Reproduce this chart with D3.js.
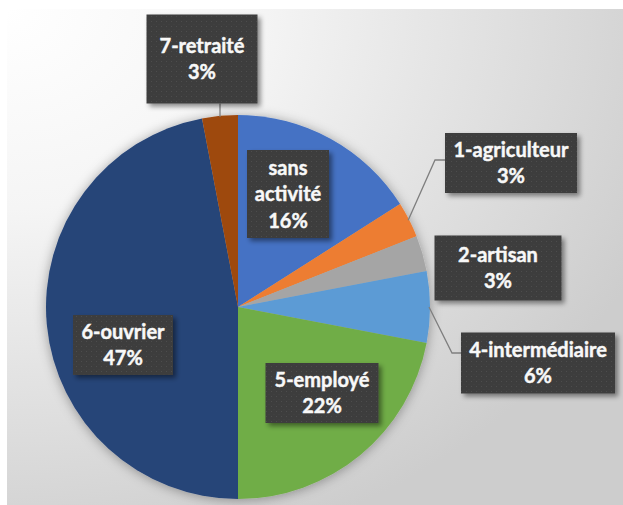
<!DOCTYPE html>
<html>
<head>
<meta charset="utf-8">
<script src="https://cdn.jsdelivr.net/npm/d3@7"></script>
<style>
  body { margin: 0; background: #fff; }
  svg { display: block; }
</style>
</head>
<body>
<svg id="chart" width="623" height="505"></svg>
<script>
// Categories and shares (%)
const categories = ["sans activité", "1-agriculteur", "2-artisan", "4-intermédiaire", "5-employé", "6-ouvrier", "7-retraité"];
const shares = [16, 3, 3, 6, 22, 47, 3];
const labelLines = [["sans", "activité"], ["1-agriculteur"], ["2-artisan"], ["4-intermédiaire"], ["5-employé"], ["6-ouvrier"], ["7-retraité"]];
const colors = ["#4472C4", "#ED7D31", "#A5A5A5", "#5B9BD5", "#70AD47", "#264478", "#9E480E"];

// Label box layout: centre, size, and leader elbow (if any)
const boxLayout = [
    { cx: 288, cy: 194, w: 82, h: 88, leader: null },
    { cx: 511, cy: 163, w: 132, h: 60, leader: { x: 435, y: 160 } },
    { cx: 498, cy: 268, w: 127, h: 65, leader: null },
    { cx: 538, cy: 363, w: 154, h: 61, leader: { x: 452, y: 353 } },
    { cx: 322, cy: 393, w: 113, h: 60, leader: null },
    { cx: 123, cy: 345, w: 100, h: 60, leader: null },
    { cx: 202, cy: 59, w: 111, h: 89, leader: "vertical" }
];

const svg = d3.select("#chart");
const defs = svg.append("defs");

// Background gradient of the chart area
const bg = defs.append("radialGradient").attr("id", "bg")
    .attr("cx", "0").attr("cy", "0").attr("r", "1.15").attr("fx", "0").attr("fy", "0");
bg.append("stop").attr("offset", "0").attr("stop-color", "#ffffff");
bg.append("stop").attr("offset", "0.35").attr("stop-color", "#f5f5f5");
bg.append("stop").attr("offset", "1").attr("stop-color", "#cdcdcd");

// Dotted pattern for the label boxes
const pat = defs.append("pattern").attr("id", "dots")
    .attr("width", 5).attr("height", 5).attr("patternUnits", "userSpaceOnUse");
pat.append("rect").attr("width", 5).attr("height", 5).attr("fill", "#3c3c3c");
pat.append("circle").attr("cx", 1.5).attr("cy", 1.5).attr("r", 0.7).attr("fill", "#4d4d4d");
pat.append("circle").attr("cx", 4).attr("cy", 4).attr("r", 0.6).attr("fill", "#474747");

const boxShadow = defs.append("filter").attr("id", "boxShadow")
    .attr("x", "-20%").attr("y", "-20%").attr("width", "150%").attr("height", "150%");
boxShadow.append("feDropShadow").attr("dx", 3).attr("dy", 3).attr("stdDeviation", 2.5)
    .attr("flood-color", "#000").attr("flood-opacity", 0.45);

const pieShadow = defs.append("filter").attr("id", "pieShadow")
    .attr("x", "-20%").attr("y", "-20%").attr("width", "140%").attr("height", "140%");
pieShadow.append("feDropShadow").attr("dx", 0).attr("dy", 1).attr("stdDeviation", 6)
    .attr("flood-color", "#000").attr("flood-opacity", 0.35);

svg.append("rect")
    .attr("x", 7).attr("y", 9).attr("width", 616).attr("height", 496)
    .attr("fill", "url(#bg)");

// Pie
const cx = 238, cy = 307, radius = 192;
const pie = d3.pie().sort(null).value(d => d);
const arcs = pie(shares);
const arc = d3.arc().innerRadius(0).outerRadius(radius);

const g = svg.append("g").attr("transform", `translate(${cx},${cy})`);
g.append("g").attr("filter", "url(#pieShadow)")
    .selectAll("path")
    .data(arcs)
    .enter()
    .append("path")
    .attr("d", arc)
    .attr("fill", (d, i) => colors[i]);

// Leader lines
boxLayout.forEach((b, i) => {
    if (!b.leader) return;
    const a = arcs[i];
    const mid = (a.startAngle + a.endAngle) / 2;
    const px = cx + (radius - 1) * Math.sin(mid);
    const py = cy - (radius - 1) * Math.cos(mid);
    let pts;
    if (b.leader === "vertical") {
        const x = b.cx + 18;
        const yEdge = cy - Math.sqrt(radius * radius - (x - cx) * (x - cx));
        pts = [[x, b.cy + b.h / 2], [x, yEdge + 1]];
    } else {
        pts = [[px, py], [b.leader.x, b.leader.y], [b.cx - b.w / 2, b.leader.y]];
    }
    svg.append("path")
        .attr("d", d3.line()(pts))
        .attr("fill", "none")
        .attr("stroke", "#7f7f7f")
        .attr("stroke-width", 1.3);
});

// Label boxes
const labels = svg.selectAll("g.lbl")
    .data(arcs)
    .enter()
    .append("g")
    .attr("class", "lbl");

labels.append("rect")
    .attr("x", (d, i) => boxLayout[i].cx - boxLayout[i].w / 2)
    .attr("y", (d, i) => boxLayout[i].cy - boxLayout[i].h / 2)
    .attr("width", (d, i) => boxLayout[i].w)
    .attr("height", (d, i) => boxLayout[i].h)
    .attr("fill", "url(#dots)")
    .attr("filter", "url(#boxShadow)");

labels.each(function(d, i) {
    const b = boxLayout[i];
    const lines = labelLines[i].concat([Math.round(d.value) + "%"]);
    const lh = 26.5;
    const t = d3.select(this).append("text")
        .attr("text-anchor", "middle")
        .attr("fill", "#f8f8f8")
        .attr("stroke", "#f8f8f8")
        .attr("stroke-width", 0.45)
        .style("font-family", "Lato, 'Open Sans', sans-serif")
        .style("font-weight", "bold")
        .style("font-size", "20px");
    lines.forEach((ln, k) => {
        t.append("tspan")
            .attr("x", b.cx)
            .attr("y", b.cy + 7 + (k - (lines.length - 1) / 2) * lh)
            .text(ln);
    });
});
</script>
</body>
</html>
